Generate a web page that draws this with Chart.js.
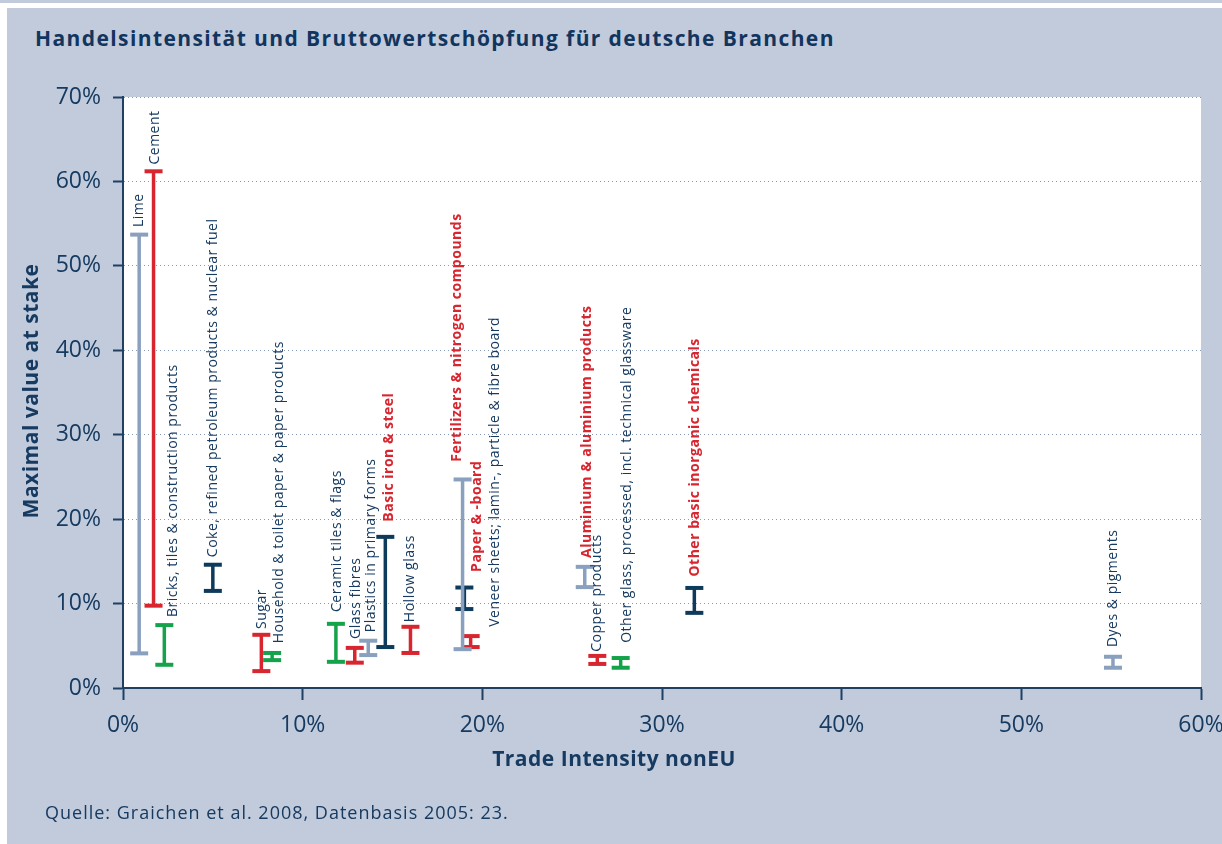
<!DOCTYPE html>
<html lang="de">
<head>
<meta charset="utf-8">
<title>Handelsintensität und Bruttowertschöpfung für deutsche Branchen</title>
<script src="https://cdn.jsdelivr.net/npm/chart.js@4.4.1/dist/chart.umd.min.js"></script>
<style>
  html, body { margin: 0; padding: 0; background: #fff; }
  body { width: 1222px; height: 844px; position: relative; overflow: hidden; font-family: 'Open Sans', sans-serif; color: #163a60; }
  .topband { position: absolute; left: 0; top: 0; width: 1222px; height: 3px; background: #c1cbdc; }
  .panel { position: absolute; left: 7px; top: 8px; right: 0; bottom: 0; background: #c1cbdc; }
  h1 { position: absolute; left: 35px; top: 24px; margin: 0; font-size: 21px; line-height: 28px; letter-spacing: 1.4px; font-weight: 700; color: #12355e; white-space: nowrap; }
  .source { position: absolute; left: 45px; top: 800px; font-size: 18px; line-height: 24px; letter-spacing: 1px; color: #163a60; white-space: nowrap; }
  canvas { position: absolute; left: 0; top: 0; }
</style>
</head>
<body>
<div class="topband"></div>
<div class="panel"></div>
<h1>Handelsintensität und Bruttowertschöpfung für deutsche Branchen</h1>
<canvas id="chart" width="1222" height="844"></canvas>
<div class="source">Quelle: Graichen et al. 2008, Datenbasis 2005: 23.</div>
<script>
// sectors, trade intensity (x, %) and range of maximal value at stake (y, %)
const sectors = [
  'Lime', 'Cement', 'Bricks, tiles & construction products',
  'Coke, refined petroleum products & nuclear fuel', 'Sugar',
  'Household & toilet paper & paper products', 'Ceramic tiles & flags',
  'Glass fibres', 'Plastics in primary forms', 'Basic iron & steel',
  'Hollow glass', 'Fertilizers & nitrogen compounds', 'Paper & -board',
  'Veneer sheets; lamin-, particle & fibre board',
  'Aluminium & aluminium products', 'Copper products',
  'Other glass, processed, incl. technical glassware',
  'Other basic inorganic chemicals', 'Dyes & pigments'
];
const tradeIntensity = [0.9, 1.7, 2.3, 5.0, 7.7, 8.3, 11.85, 12.9, 13.65, 14.6, 16.0, 18.9, 19.0, 19.35, 25.7, 26.4, 27.7, 31.8, 55.1];
const valueMin = [4.1, 9.75, 2.75, 11.5, 2.0, 3.3, 3.1, 3.0, 3.9, 4.85, 4.15, 4.6, 9.35, 4.85, 11.95, 2.85, 2.4, 8.9, 2.4];
const valueMax = [53.7, 61.2, 7.45, 14.6, 6.3, 4.15, 7.6, 4.75, 5.6, 17.9, 7.25, 24.7, 11.9, 6.15, 14.35, 3.8, 3.55, 11.85, 3.7];
const barGroup = ['grey', 'red', 'green', 'navy', 'red', 'green', 'green', 'red', 'grey', 'navy', 'red', 'grey', 'navy', 'red', 'grey', 'red', 'green', 'navy', 'grey'];
const highlighted = [false, false, false, false, false, false, false, false, false, true, false, true, true, false, true, false, false, true, false];
// where each rotated label begins (x, y in data %)
const labelX = [0.9, 1.78, 2.78, 5.0, 7.74, 8.68, 11.9, 12.95, 13.8, 14.8, 16.0, 18.6, 19.7, 20.7, 25.8, 26.4, 28.05, 31.83, 55.1];
const labelY = [54.6, 62.0, 8.4, 15.5, 7.0, 5.3, 9.0, 5.8, 6.6, 19.7, 7.8, 26.8, 13.75, 7.25, 15.4, 4.3, 5.35, 13.2, 4.85];
const xTicks = [0, 10, 20, 30, 40, 50, 60];
const yTicks = [0, 10, 20, 30, 40, 50, 60, 70];

const palette = { grey: '#8aa0bf', red: '#d7262f', green: '#14a24a', navy: '#0e3a5c' };
const textColor = '#163a60';
const axisColor = '#1f3f63';

const datasets = sectors.map((name, i) => ({
  label: name,
  data: [{ x: tradeIntensity[i], y: valueMin[i] }, { x: tradeIntensity[i], y: valueMax[i] }],
  showLine: true,
  borderColor: palette[barGroup[i]],
  borderWidth: 3.5,
  pointStyle: 'line',
  pointRadius: 9,
  pointHoverRadius: 9,
  pointBorderWidth: 4,
  pointBorderColor: palette[barGroup[i]]
}));

const plotBackground = {
  id: 'plotBackground',
  beforeDraw(chart) {
    const { ctx, chartArea: a } = chart;
    ctx.save();
    ctx.fillStyle = '#fff';
    ctx.fillRect(a.left, a.top, a.right - a.left, a.bottom - a.top);
    ctx.restore();
  }
};

const sectorLabels = {
  id: 'sectorLabels',
  afterDatasetsDraw(chart) {
    const { ctx, scales: { x, y } } = chart;
    ctx.save();
    ctx.textAlign = 'left';
    ctx.textBaseline = 'middle';
    ctx.letterSpacing = '0.5px';
    sectors.forEach((name, i) => {
      ctx.save();
      ctx.translate(x.getPixelForValue(labelX[i]), y.getPixelForValue(labelY[i]));
      ctx.rotate(-Math.PI / 2);
      ctx.font = highlighted[i] ? "700 14px 'Open Sans'" : "400 14px 'Open Sans'";
      ctx.fillStyle = highlighted[i] ? palette.red : textColor;
      ctx.fillText(name, 0, 0);
      ctx.restore();
    });
    ctx.restore();
  }
};

const axisTitles = {
  id: 'axisTitles',
  afterDraw(chart) {
    const { ctx } = chart;
    ctx.save();
    ctx.fillStyle = textColor;
    ctx.font = "700 21px 'Open Sans'";
    ctx.letterSpacing = '0.5px';
    ctx.textAlign = 'center';
    ctx.textBaseline = 'middle';
    ctx.fillText('Trade Intensity nonEU', 614, 760);
    ctx.translate(32, 391);
    ctx.rotate(-Math.PI / 2);
    ctx.fillText('Maximal value at stake', 0, 0);
    ctx.restore();
  }
};

new Chart(document.getElementById('chart'), {
  type: 'scatter',
  data: { datasets },
  options: {
    responsive: false,
    devicePixelRatio: 1,
    animation: false,
    layout: { padding: { top: 97, right: 21, bottom: 0, left: 0 } },
    plugins: { legend: { display: false }, tooltip: { enabled: false } },
    scales: {
      x: {
        type: 'linear', min: 0, max: 60,
        afterFit: s => { s.height = 156; s.paddingLeft = 0; s.paddingRight = 0; },
        afterBuildTicks: s => { s.ticks = xTicks.map(v => ({ value: v })); },
        grid: { drawOnChartArea: false, drawTicks: true, tickLength: 12, tickColor: axisColor, tickWidth: 2 },
        border: { color: axisColor, width: 2 },
        ticks: {
          padding: 12, color: textColor, maxRotation: 0,
          font: { family: "'Open Sans'", size: 23, weight: 400 },
          callback: v => v + '%'
        }
      },
      y: {
        type: 'linear', min: 0, max: 70,
        afterFit: s => { s.width = 123; },
        afterBuildTicks: s => { s.ticks = yTicks.map(v => ({ value: v })); },
        grid: { color: '#8a9bb6', lineWidth: 1, tickLength: 10, tickColor: axisColor, tickWidth: 2 },
        border: { color: axisColor, width: 2, dash: [1, 3] },
        ticks: {
          padding: 12, color: textColor,
          font: { family: "'Open Sans'", size: 23, weight: 400 },
          callback: v => v + '%'
        }
      }
    }
  },
  plugins: [plotBackground, sectorLabels, axisTitles]
});
</script>
</body>
</html>
